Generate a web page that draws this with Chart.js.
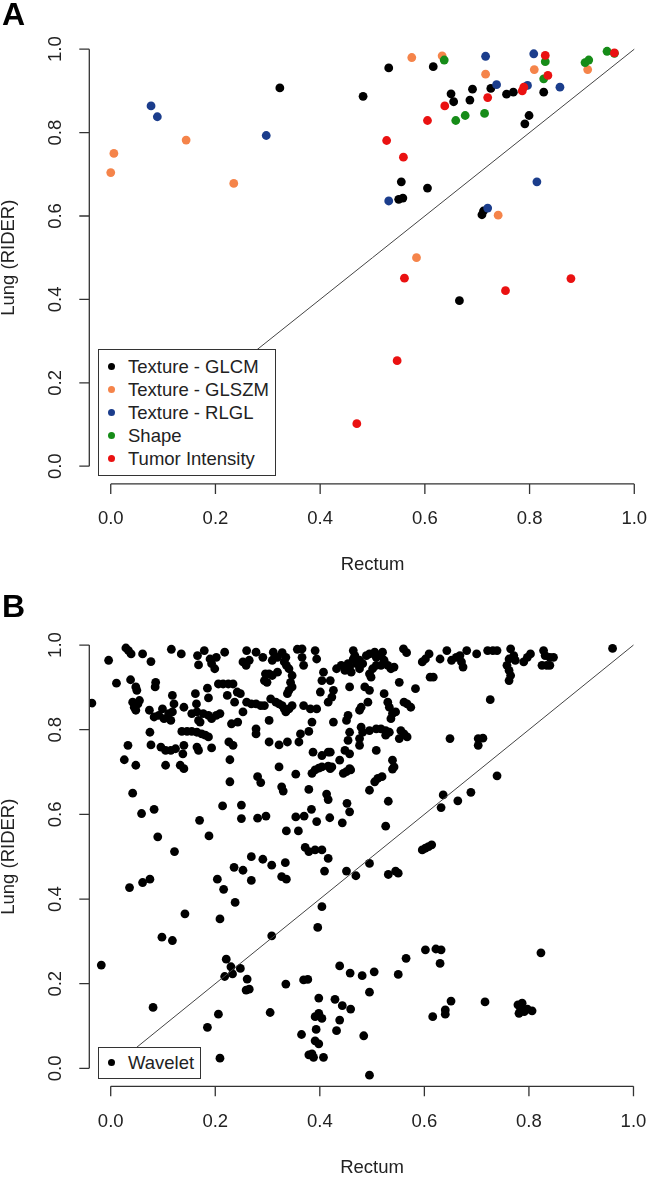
<!DOCTYPE html>
<html>
<head>
<meta charset="utf-8">
<script src="https://cdn.jsdelivr.net/npm/chart.js@4.4.1/dist/chart.umd.min.js"></script>
<style>
  html, body { margin: 0; padding: 0; background: #fff; overflow: hidden; }
  #page { position: relative; width: 656px; height: 1177px; overflow: hidden; background: #fff;
          font-family: "Liberation Sans", Arial, sans-serif; color: #222; }
  canvas { position: absolute; left: 0; }
  .panel-label { position: absolute; left: 2px; font-weight: bold; font-size: 32px; line-height: 32px; color: #000; }
  .legend { position: absolute; background: #fff; border: 1px solid #333; box-sizing: border-box; }
  .legend .row { position: absolute; left: 0; height: 23px; line-height: 23px; font-size: 18.5px; white-space: nowrap; }
  .legend .dot { position: absolute; width: 7px; height: 7px; border-radius: 50%; top: 8px; }
  .legend .txt { position: absolute; left: 29px; top: 0; }
</style>
</head>
<body>
<div id="page">
  <canvas id="chartA" width="672" height="590" style="top:0px"></canvas>
  <canvas id="chartB" width="672" height="600" style="top:585px"></canvas>
  <div class="panel-label" style="top:-2px">A</div>
  <div class="panel-label" style="top:590px">B</div>
  <div class="legend" id="legendA" style="left:98px; top:349px; width:178px; height:127px"></div>
  <div class="legend" id="legendB" style="left:98px; top:1047px; width:103px; height:32px"></div>
</div>
<script>
// axis setup shared by both panels
const tickVals = [0, 0.2, 0.4, 0.6, 0.8, 1.0];
const axisRange = [-0.04, 1.04];
const identity = [0, 1];   // reference line y = x
const xTitle = 'Rectum';
const yTitle = 'Lung (RIDER)';

// Panel A: feature groups, [rectum, lung]
const seriesA = ['Texture - GLCM', 'Texture - GLSZM', 'Texture - RLGL', 'Shape', 'Tumor Intensity'];
const glcmPts = [[0.323,0.907],[0.531,0.955],[0.616,0.958],[0.482,0.887],[0.691,0.904],[0.726,0.906],[0.650,0.893],
  [0.655,0.874],[0.686,0.878],[0.756,0.892],[0.769,0.897],[0.827,0.897],[0.799,0.841],[0.791,0.821],[0.555,0.682],
  [0.605,0.667],[0.558,0.643],[0.550,0.640],[0.709,0.603],[0.712,0.612],[0.666,0.397]];
const glszmPts = [[0.006,0.750],[0.000,0.704],[0.144,0.782],[0.235,0.678],[0.575,0.980],[0.633,0.984],[0.716,0.940],
  [0.809,0.951],[0.911,0.951],[0.740,0.602],[0.584,0.500]];
const rlglPts = [[0.077,0.864],[0.089,0.838],[0.297,0.793],[0.716,0.983],[0.737,0.915],[0.796,0.913],[0.858,0.909],
  [0.808,0.989],[0.531,0.636],[0.814,0.682],[0.720,0.619]];
const shapePts = [[0.637,0.974],[0.830,0.970],[0.827,0.929],[0.906,0.968],[0.913,0.974],[0.948,0.995],[0.962,0.990],
  [0.659,0.829],[0.677,0.841],[0.714,0.846]];
const intensityPts = [[0.720,0.884],[0.638,0.864],[0.786,0.900],[0.789,0.909],[0.830,0.985],[0.835,0.937],[0.962,0.991],
  [0.605,0.829],[0.527,0.781],[0.559,0.741],[0.561,0.451],[0.879,0.450],[0.754,0.421],[0.547,0.253],[0.470,0.102]];

// Panel B: wavelet features, [rectum, lung]
const seriesB = ['Wavelet'];
const waveletPts = [
  [-0.004,0.964],[0.029,0.993],[0.034,0.987],[0.039,0.979],[0.061,0.979],[0.077,0.961],[0.116,0.990],[0.135,0.979],
  [0.166,0.975],[0.168,0.953],[0.179,0.987],[0.190,0.967],[0.193,0.956],[0.199,0.944],[0.202,0.971],[0.218,0.983],
  [0.260,0.987],[0.253,0.960],[0.259,0.952],[0.265,0.964],[0.278,0.983],[0.291,0.971],[0.311,0.983],[0.309,0.964],
  [0.319,0.971],[0.328,0.982],[0.335,0.971],[0.332,0.960],[0.336,0.952],[0.357,0.990],[0.366,0.991],[0.366,0.971],
  [0.369,0.952],[0.391,0.987],[0.394,0.967],[0.407,0.936],[0.296,0.932],[0.303,0.932],[0.294,0.916],[0.299,0.912],
  [0.309,0.928],[0.319,0.936],[0.341,0.944],[0.347,0.928],[0.344,0.912],[0.347,0.901],[0.341,0.893],[0.338,0.885],
  [0.404,0.916],[0.401,0.889],[0.011,0.910],[0.038,0.918],[0.048,0.901],[0.050,0.893],[0.086,0.912],[0.085,0.901],
  [0.118,0.881],[0.121,0.861],[0.140,0.853],[0.162,0.885],[0.164,0.861],[0.185,0.898],[0.187,0.875],[0.206,0.908],
  [0.215,0.908],[0.225,0.908],[0.234,0.908],[0.223,0.881],[0.242,0.889],[0.248,0.885],[0.237,0.865],[0.260,0.865],
  [0.269,0.861],[0.278,0.861],[0.287,0.857],[0.294,0.857],[0.253,0.842],[0.306,0.873],[0.316,0.865],[0.322,0.861],
  [0.328,0.857],[0.332,0.849],[0.335,0.842],[0.341,0.849],[0.347,0.857],[0.369,0.857],[0.382,0.849],[0.394,0.849],
  [-0.036,0.863],[0.042,0.865],[0.045,0.853],[0.048,0.846],[0.052,0.861],[0.055,0.869],[0.074,0.846],[0.083,0.830],
  [0.092,0.834],[0.099,0.849],[0.102,0.826],[0.111,0.838],[0.118,0.842],[0.115,0.822],[0.155,0.838],[0.165,0.842],
  [0.168,0.822],[0.171,0.818],[0.177,0.838],[0.187,0.834],[0.193,0.826],[0.202,0.834],[0.209,0.838],[0.231,0.814],
  [0.243,0.818],[0.278,0.802],[0.278,0.790],[0.303,0.822],[0.385,0.818],[0.075,0.794],[0.136,0.796],[0.146,0.796],
  [0.155,0.796],[0.165,0.794],[0.174,0.790],[0.181,0.787],[0.187,0.783],[0.033,0.763],[0.077,0.764],[0.096,0.759],
  [0.105,0.751],[0.115,0.751],[0.124,0.755],[0.140,0.763],[0.138,0.743],[0.165,0.759],[0.168,0.751],[0.193,0.757],
  [0.226,0.771],[0.234,0.763],[0.303,0.771],[0.322,0.764],[0.338,0.771],[0.360,0.771],[0.363,0.790],[0.379,0.796],
  [0.387,0.747],[0.404,0.739],[0.416,0.747],[0.026,0.729],[0.048,0.716],[0.133,0.716],[0.140,0.708],[0.228,0.729],
  [0.322,0.712],
  [0.464,0.987],[0.467,0.975],[0.464,0.967],[0.432,0.944],[0.441,0.952],[0.448,0.940],[0.454,0.956],[0.457,0.948],
  [0.460,0.936],[0.470,0.956],[0.476,0.964],[0.482,0.956],[0.476,0.944],[0.489,0.975],[0.495,0.979],[0.505,0.983],
  [0.508,0.971],[0.514,0.975],[0.520,0.983],[0.523,0.964],[0.517,0.952],[0.508,0.952],[0.501,0.944],[0.495,0.932],
  [0.498,0.924],[0.530,0.952],[0.536,0.944],[0.542,0.948],[0.560,0.991],[0.566,0.982],[0.552,0.912],[0.583,0.897],
  [0.596,0.960],[0.602,0.967],[0.609,0.979],[0.611,0.924],[0.617,0.924],[0.630,0.967],[0.643,0.987],[0.652,0.964],
  [0.661,0.971],[0.668,0.975],[0.671,0.960],[0.674,0.948],[0.681,0.987],[0.700,0.979],[0.721,0.987],[0.731,0.987],
  [0.739,0.987],[0.758,0.952],[0.762,0.967],[0.765,0.991],[0.771,0.975],[0.774,0.964],[0.762,0.940],[0.765,0.928],
  [0.762,0.916],[0.790,0.960],[0.797,0.971],[0.803,0.979],[0.828,0.987],[0.831,0.975],[0.840,0.971],[0.847,0.971],
  [0.825,0.952],[0.834,0.952],[0.840,0.952],[0.726,0.871],[0.420,0.916],[0.426,0.893],[0.423,0.877],[0.416,0.865],
  [0.457,0.901],[0.486,0.901],[0.495,0.893],[0.523,0.885],[0.530,0.865],[0.533,0.853],[0.539,0.838],[0.545,0.842],
  [0.536,0.826],[0.561,0.865],[0.567,0.861],[0.574,0.853],[0.479,0.853],[0.476,0.846],[0.492,0.865],[0.426,0.818],
  [0.454,0.834],[0.451,0.822],[0.479,0.806],[0.482,0.794],[0.476,0.779],[0.495,0.798],[0.508,0.802],[0.517,0.802],
  [0.526,0.798],[0.533,0.794],[0.526,0.787],[0.555,0.798],[0.561,0.790],[0.552,0.779],[0.567,0.783],[0.457,0.794],
  [0.454,0.775],[0.420,0.747],[0.438,0.728],[0.448,0.751],[0.457,0.743],[0.476,0.763],[0.508,0.751],[0.649,0.779],
  [0.703,0.779],[0.712,0.780],[0.703,0.763],[0.539,0.728],[0.542,0.712],[0.420,0.708],[0.457,0.708],[0.960,0.992],
  [0.105,0.716],[0.228,0.677],[0.281,0.689],[0.287,0.675],[0.327,0.665],[0.330,0.655],[0.354,0.695],[0.385,0.697],
  [0.391,0.705],[0.398,0.709],[0.404,0.712],[0.416,0.714],[0.379,0.659],[0.413,0.648],[0.416,0.635],[0.042,0.650],
  [0.059,0.602],[0.083,0.612],[0.214,0.620],[0.250,0.622],[0.170,0.586],[0.250,0.590],[0.281,0.591],[0.297,0.596],
  [0.354,0.594],[0.370,0.596],[0.384,0.612],[0.394,0.583],[0.419,0.592],[0.090,0.547],[0.188,0.549],[0.336,0.561],
  [0.359,0.561],[0.122,0.512],[0.372,0.522],[0.379,0.512],[0.391,0.516],[0.404,0.516],[0.416,0.496],[0.269,0.500],
  [0.291,0.494],[0.308,0.480],[0.334,0.486],[0.409,0.466],[0.236,0.475],[0.253,0.468],[0.269,0.444],[0.327,0.453],
  [0.336,0.447],[0.204,0.447],[0.216,0.423],[0.036,0.427],[0.061,0.439],[0.075,0.447],[0.238,0.392],
  [0.423,0.712],[0.445,0.697],[0.451,0.701],[0.459,0.705],[0.539,0.707],[0.505,0.677],[0.511,0.685],[0.519,0.689],
  [0.495,0.657],[0.452,0.626],[0.457,0.606],[0.531,0.631],[0.443,0.580],[0.526,0.572],[0.636,0.646],[0.632,0.616],
  [0.664,0.632],[0.689,0.652],[0.739,0.691],[0.596,0.516],[0.602,0.520],[0.608,0.524],[0.614,0.528],[0.495,0.484],
  [0.451,0.466],[0.469,0.455],[0.531,0.458],[0.545,0.466],[0.550,0.461],
  [0.142,0.365],[0.209,0.353],[0.098,0.310],[0.118,0.302],[0.308,0.313],[-0.018,0.244],[0.221,0.258],[0.230,0.240],
  [0.233,0.223],[0.218,0.217],[0.248,0.236],[0.261,0.211],[0.265,0.187],[0.259,0.185],[0.335,0.199],[0.377,0.210],
  [0.369,0.209],[0.398,0.166],[0.391,0.122],[0.398,0.130],[0.404,0.118],[0.393,0.092],[0.365,0.080],[0.391,0.065],
  [0.398,0.058],[0.379,0.032],[0.388,0.026],[0.385,0.034],[0.407,0.026],[0.305,0.132],[0.206,0.128],[0.081,0.144],
  [0.185,0.097],[0.209,0.024],[0.396,0.333],[0.404,0.382],[0.602,0.280],[0.622,0.282],[0.632,0.280],[0.630,0.248],
  [0.565,0.260],[0.550,0.222],[0.504,0.228],[0.481,0.219],[0.458,0.225],[0.438,0.242],[0.495,0.180],[0.429,0.163],
  [0.443,0.148],[0.459,0.140],[0.438,0.114],[0.432,0.089],[0.484,0.077],[0.495,-0.016],[0.616,0.122],[0.640,0.138],
  [0.640,0.128],[0.651,0.159],[0.716,0.157],[0.779,0.150],[0.787,0.154],[0.781,0.130],[0.791,0.134],[0.797,0.140],
  [0.806,0.136],[0.784,0.140],[0.823,0.273]
];

// styles
const colorsA = ['#000000', '#f5844a', '#1b3d8c', '#168c18', '#ea1111'];
const colorsB = ['#000000'];
const FONT = 'Liberation Sans';
const txtFont = { family: FONT, size: 18.5, lineHeight: 1.2 };

const toXY = pts => pts.map(p => ({ x: p[0], y: p[1] }));

// R-style axes: line from first to last tick, outward tick marks
const rAxes = {
  id: 'rAxes',
  afterDraw(chart) {
    const { ctx, chartArea, scales: { x, y } } = chart;
    const x0 = x.getPixelForValue(tickVals[0]), x1 = x.getPixelForValue(tickVals[tickVals.length - 1]);
    const y0 = y.getPixelForValue(tickVals[0]), y1 = y.getPixelForValue(tickVals[tickVals.length - 1]);
    const by = chartArea.bottom + 1, lx = chartArea.left - 0.5;
    ctx.save();
    ctx.strokeStyle = '#333';
    ctx.lineWidth = 1.3;
    ctx.beginPath();
    ctx.moveTo(x0, by); ctx.lineTo(x1, by);
    tickVals.forEach(v => { const px = x.getPixelForValue(v); ctx.moveTo(px, by); ctx.lineTo(px, by + 10); });
    ctx.moveTo(lx, y0); ctx.lineTo(lx, y1);
    tickVals.forEach(v => { const py = y.getPixelForValue(v); ctx.moveTo(lx, py); ctx.lineTo(lx - 10, py); });
    ctx.stroke();
    ctx.restore();
  }
};

function buildChart(id, datasets, area) {
  const cv = document.getElementById(id);
  const xH = area.titleY + txtFont.size * txtFont.lineHeight / 2 - area.bottom;
  return new Chart(cv, {
    type: 'scatter',
    data: { datasets },
    options: {
      responsive: false,
      animation: false,
      devicePixelRatio: 1,
      layout: { padding: { left: 0, right: cv.width - 662.2, top: area.top, bottom: cv.height - area.bottom - xH } },
      plugins: { legend: { display: false }, tooltip: { enabled: false } },
      scales: {
        x: {
          type: 'linear', position: 'bottom', min: axisRange[0], max: axisRange[1],
          grid: { display: false, drawTicks: false }, border: { display: false },
          afterBuildTicks: s => { s.ticks = tickVals.map(v => ({ value: v })); },
          afterFit: s => { s.height = xH; },
          ticks: { color: '#222', font: txtFont, padding: area.xPad, autoSkip: false, maxRotation: 0,
                   callback: v => Number(v).toFixed(1) },
          title: { display: true, text: xTitle, color: '#222', font: txtFont, padding: 0 }
        },
        y: {
          type: 'linear', position: 'left', min: axisRange[0], max: axisRange[1],
          grid: { display: false, drawTicks: false }, border: { display: false },
          afterBuildTicks: s => { s.ticks = tickVals.map(v => ({ value: v })); },
          afterFit: s => { s.width = 89.8; },
          ticks: { color: '#222', font: txtFont, padding: 21.4, autoSkip: false, minRotation: 90, maxRotation: 90,
                   crossAlign: 'center', callback: v => Number(v).toFixed(1) },
          title: { display: true, text: yTitle, color: '#222', font: txtFont, padding: { top: -1.7, bottom: 0 } }
        }
      }
    },
    plugins: [rAxes]
  });
}

function scatterSet(label, pts, color, order) {
  return { label, data: toXY(pts), backgroundColor: color, borderColor: color,
           pointRadius: 4.4, pointBorderWidth: 0, pointHoverRadius: 4.4, order };
}
function lineSet() {
  return { label: 'identity', data: identity.map(v => ({ x: v, y: v })), showLine: true,
           borderColor: '#444', borderWidth: 1, pointRadius: 0, fill: false, order: -1 };
}

const groupsA = [glcmPts, glszmPts, rlglPts, shapePts, intensityPts];
const dsA = groupsA.map((g, i) => scatterSet(seriesA[i], g, colorsA[i], groupsA.length - i));
dsA.push(lineSet());
buildChart('chartA', dsA, { top: 25.8, bottom: 482.9, titleY: 565, xPad: 24.5 });

const dsB = [scatterSet(seriesB[0], waveletPts, colorsB[0], 1), lineSet()];
buildChart('chartB', dsB, { top: 43.1, bottom: 500.3, titleY: 582.5, xPad: 25.3 });

// legends
function buildLegend(id, names, colors, firstTop) {
  const box = document.getElementById(id);
  names.forEach((n, i) => {
    const row = document.createElement('div');
    row.className = 'row';
    row.style.top = (firstTop + i * 23) + 'px';
    const dot = document.createElement('span');
    dot.className = 'dot';
    dot.style.left = '8.5px';
    dot.style.background = colors[i];
    const t = document.createElement('span');
    t.className = 'txt';
    t.textContent = n;
    row.appendChild(dot);
    row.appendChild(t);
    box.appendChild(row);
  });
}
buildLegend('legendA', seriesA, colorsA, 4.5);
buildLegend('legendB', seriesB, colorsB, 3);
</script>
</body>
</html>
